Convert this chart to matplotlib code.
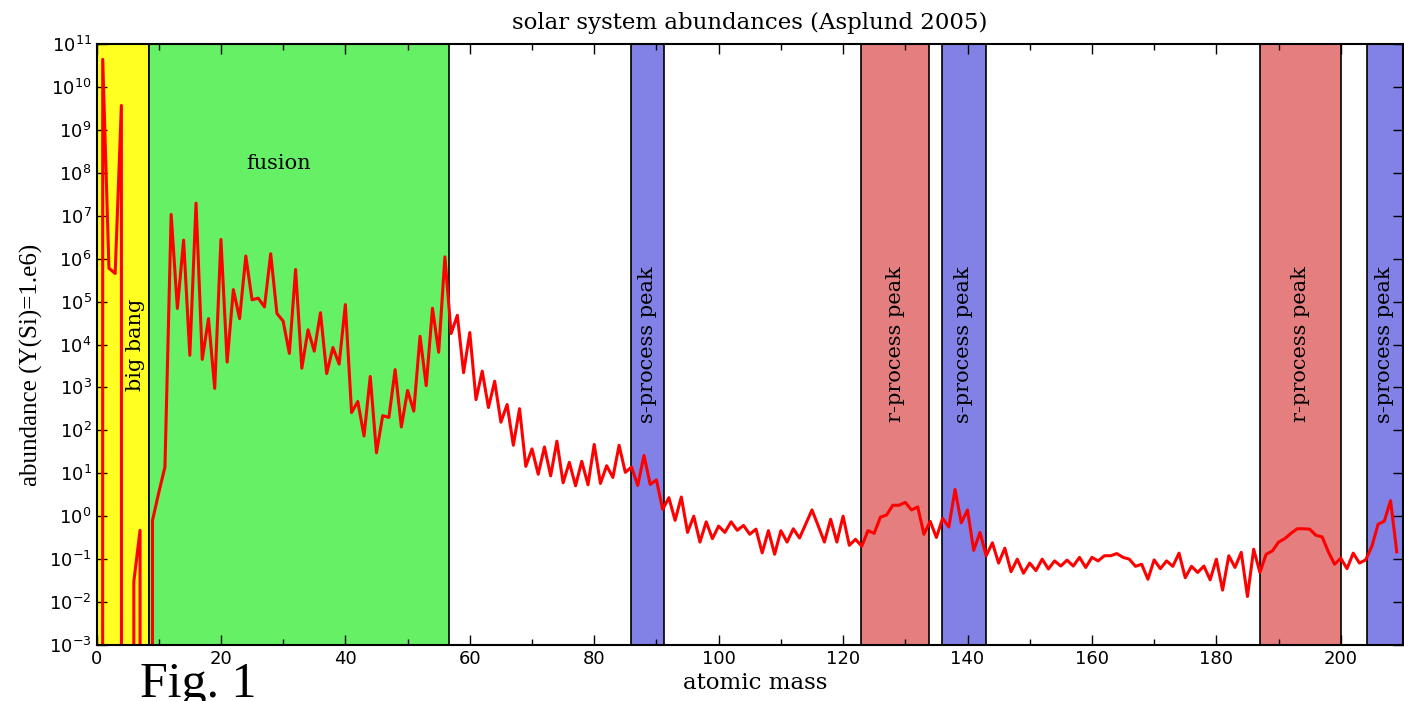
import numpy as np
import matplotlib
matplotlib.use("Agg")
import matplotlib.pyplot as plt

# abundance per atomic mass number A = 0..209 (Y(Si)=1e6)
mass_numbers = list(range(0, 210))
abund_light = [0, 4.4e10, 6e5, 4.5e5, 3.7e9, 0, 0.03, 0.47, 0, 0.8,
               3.5, 14, 1.07e7, 6.9e4, 2.7e6, 5.6e3, 1.96e7, 4.5e3, 4e4, 950,
               2.8e6, 3.9e3, 1.9e5, 4e4, 1.15e6, 1.1e5, 1.2e5, 7.5e4, 1.3e6, 5.3e4,
               3.5e4, 6.2e3, 5.6e5, 2.8e3, 2.2e4, 7e3, 5.5e4, 2.1e3, 8.5e3, 3.5e3]
abund_iron = [8.5e4, 260, 470, 74, 1.8e3, 30, 220, 200, 2.6e3, 120,
              850, 280, 1.55e4, 1.1e3, 7e4, 6.6e3, 1.1e6, 1.8e4, 4.8e4, 2.2e3,
              1.9e4, 520, 2.4e3, 340, 1.4e3, 155, 400, 45, 320, 14.5,
              37, 9.5, 41, 8.7, 56, 6, 18, 5.1, 19, 5.4]
abund_mid = [47, 5.8, 15, 8, 45, 10.5, 14, 5.2, 26, 5.5,
             7, 1.45, 2.7, 0.8, 2.8, 0.42, 1.0, 0.25, 0.74, 0.3,
             0.59, 0.42, 0.74, 0.47, 0.61, 0.38, 0.5, 0.14, 0.46, 0.13,
             0.46, 0.25, 0.51, 0.31, 0.66, 1.4, 0.6, 0.25, 0.85, 0.25,
             1.0, 0.21, 0.29, 0.2, 0.46, 0.4, 0.95, 1.07, 1.8, 1.8,
             2.1, 1.4, 1.65, 0.38, 0.76, 0.32, 0.89, 0.56, 4.2, 0.7,
             1.4, 0.16, 0.42, 0.12, 0.24, 0.081, 0.18]
abund_heavy = [0.051, 0.1, 0.047, 0.081, 0.054, 0.1, 0.059, 0.091, 0.069, 0.095,
               0.069, 0.11, 0.064, 0.11, 0.091, 0.12, 0.12, 0.135, 0.11, 0.1,
               0.068, 0.076, 0.034, 0.096, 0.06, 0.091, 0.068, 0.138, 0.037, 0.068,
               0.049, 0.069, 0.033, 0.1, 0.019, 0.12, 0.064, 0.144, 0.0135, 0.17,
               0.049, 0.13, 0.155, 0.25, 0.3, 0.4, 0.51, 0.51, 0.5, 0.36,
               0.33, 0.148, 0.076, 0.105, 0.06, 0.138, 0.081, 0.096, 0.2, 0.65,
               0.77, 2.3, 0.148]
abundance = abund_light + abund_iron + abund_mid + abund_heavy

# shaded regions: (label, start, end, colour, text x)
regions = [
    ("big bang", 0.0, 8.45, "#ffff22", 6.2),
    ("fusion", 8.45, 56.7, "#66f066", 29.3),
    ("s-process peak", 85.9, 91.2, "#8181e6", 88.5),
    ("r-process peak", 122.9, 133.8, "#e57f7f", 128.4),
    ("s-process peak", 135.9, 143.0, "#8181e6", 139.4),
    ("r-process peak", 187.0, 200.1, "#e57f7f", 193.5),
    ("s-process peak", 204.2, 210.0, "#8181e6", 207.0),
]

serif = ["DejaVu Serif"]

fig = plt.figure(figsize=(14.04, 7.01), dpi=100)
ax = fig.add_axes([96.5 / 1404, 1 - 645 / 701, (1403 - 96.5) / 1404, (645 - 44) / 701])

for label, x0, x1, col, tx in regions:
    ax.axvspan(x0, x1, facecolor=col, edgecolor="black", linewidth=1.2, zorder=1)
    if label == "fusion":
        ax.text(tx, 1e8, label, ha="center", va="bottom", fontsize=15, family=serif, zorder=3)
    else:
        ax.text(tx, 1e4, label, ha="center", va="center", rotation=90, fontsize=15,
                family=serif, zorder=3)

ax.plot(mass_numbers, abundance, color="red", linewidth=2.2, zorder=2)

ax.set_yscale("log", nonpositive="clip")
ax.set_xlim(0, 210)
ax.set_ylim(1e-3, 1e11)
ax.set_yticks([10.0 ** k for k in range(-3, 12)])
ax.yaxis.set_minor_locator(matplotlib.ticker.NullLocator())
ax.set_xticks(np.arange(0, 201, 20))
ax.set_xticks(np.arange(10, 211, 20), minor=True)
ax.tick_params(which="both", direction="in", top=True, right=True, labelsize=13)
ax.tick_params(which="major", length=7, width=1)
ax.tick_params(which="minor", length=4, width=1)
for s in ax.spines.values():
    s.set_linewidth(1.5)

ax.set_title("solar system abundances (Asplund 2005)", fontsize=16.5, family=serif, pad=11)
ax.set_xlabel("atomic mass", fontsize=16.5, family=serif)
ax.xaxis.set_label_coords(0.504, -0.045)
ax.set_ylabel("abundance (Y(Si)=1.e6)", fontsize=18, family=["Liberation Serif"])
ax.yaxis.set_label_coords(-0.041, 0.466)

fig.text(140 / 1404, 1 - 697 / 701, "Fig. 1", fontsize=36, family=["Liberation Serif"],
         ha="left", va="baseline")

fig.savefig("out.png", dpi=100)
